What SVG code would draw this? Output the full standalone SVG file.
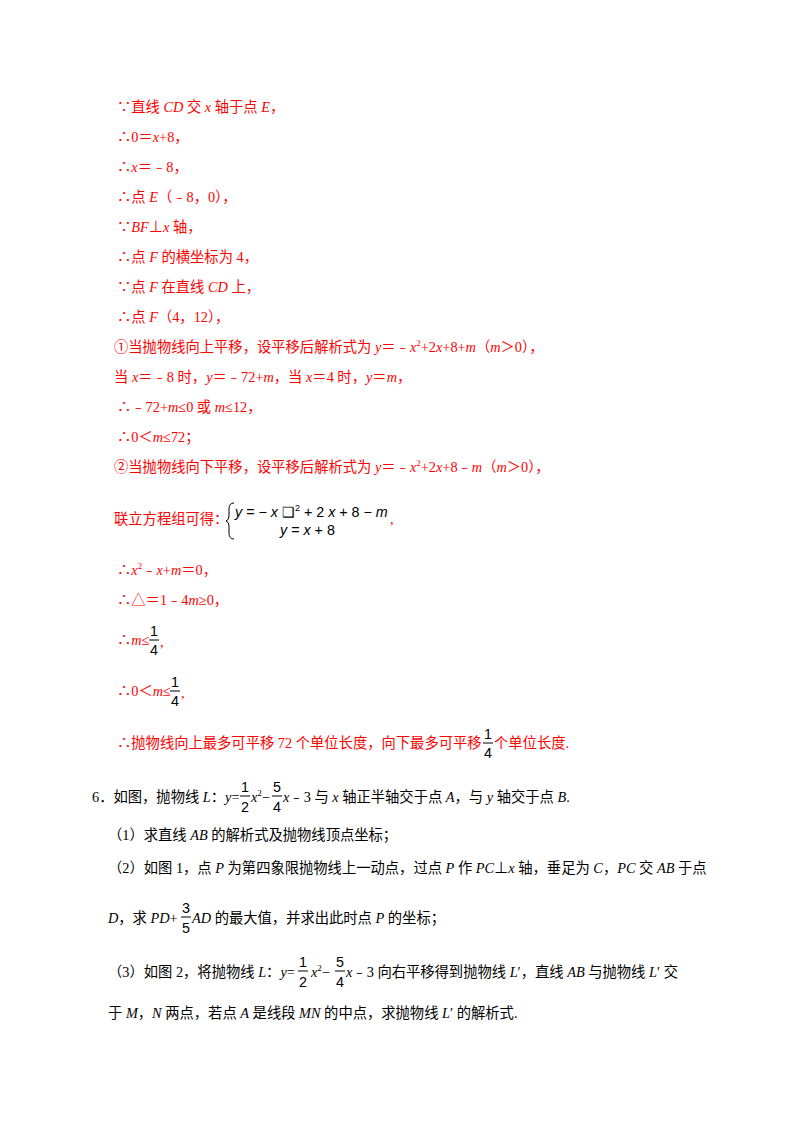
<svg xmlns="http://www.w3.org/2000/svg" width="800" height="1132" viewBox="0 0 800 1132">
<style>
text{font-family:"Liberation Serif","Noto Sans CJK SC",serif;font-size:14.3px}
.r{fill:#ff0000}
.k{fill:#000}
.i{font-style:italic}
.s{font-family:"Liberation Sans","Noto Sans CJK SC",sans-serif}
.sup{font-size:9px}
line{stroke-width:1}
.kl{stroke:#000}
</style>
<rect width="800" height="1132" fill="#fff"/>
<g id="solution" class="r">
<text class="r" x="117" y="112">∵直线 <tspan class="i">CD</tspan> 交 <tspan class="i">x</tspan> 轴于点 <tspan class="i">E</tspan>，</text>
<text class="r" x="117" y="142">∴0＝<tspan class="i">x</tspan>+8，</text>
<text class="r" x="117" y="172">∴<tspan class="i">x</tspan>＝﹣8，</text>
<text class="r" x="117" y="202">∴点 <tspan class="i">E</tspan>（﹣8，0），</text>
<text class="r" x="117" y="232">∵<tspan class="i">BF</tspan>⊥<tspan class="i">x</tspan> 轴，</text>
<text class="r" x="117" y="262">∴点 <tspan class="i">F</tspan> 的横坐标为 4，</text>
<text class="r" x="117" y="292">∵点 <tspan class="i">F</tspan> 在直线 <tspan class="i">CD</tspan> 上，</text>
<text class="r" x="117" y="322">∴点 <tspan class="i">F</tspan>（4，12），</text>
<text class="r" x="114" y="352">①当抛物线向上平移，设平移后解析式为 <tspan class="i">y</tspan>＝﹣<tspan class="i">x</tspan><tspan class="sup" dy="-6">2</tspan><tspan dy="6">+2</tspan><tspan class="i">x</tspan>+8+<tspan class="i">m</tspan>（<tspan class="i">m</tspan>＞0），</text>
<text class="r" x="114" y="382">当 <tspan class="i">x</tspan>＝﹣8 时，<tspan class="i">y</tspan>＝﹣72+<tspan class="i">m</tspan>，当 <tspan class="i">x</tspan>＝4 时，<tspan class="i">y</tspan>＝<tspan class="i">m</tspan>，</text>
<text class="r" x="117" y="412">∴﹣72+<tspan class="i">m</tspan>≤0 或 <tspan class="i">m</tspan>≤12，</text>
<text class="r" x="117" y="442">∴0＜<tspan class="i">m</tspan>≤72；</text>
<text class="r" x="114" y="472">②当抛物线向下平移，设平移后解析式为 <tspan class="i">y</tspan>＝﹣<tspan class="i">x</tspan><tspan class="sup" dy="-6">2</tspan><tspan dy="6">+2</tspan><tspan class="i">x</tspan>+8﹣<tspan class="i">m</tspan>（<tspan class="i">m</tspan>＞0），</text>
<text class="r" x="114" y="524">联立方程组可得：</text>
<path d="M234 503 Q229 503 229 509 L229 516 Q229 520 226 521 Q229 522 229 526 L229 533 Q229 539 234 539" fill="none" stroke="#000" stroke-width="1"/>
<text class="k s" x="235" y="517"><tspan class="i">y</tspan> = − <tspan class="i">x</tspan> ❑<tspan class="sup" dy="-6">2</tspan><tspan dy="6"> + 2 </tspan><tspan class="i">x</tspan> + 8 − <tspan class="i">m</tspan></text>
<text class="r" x="390" y="524">,</text>
<text class="k s" x="280" y="535"><tspan class="i">y</tspan> = <tspan class="i">x</tspan> + 8</text>
<text class="r" x="117" y="575">∴<tspan class="i">x</tspan><tspan class="sup" dy="-6">2</tspan><tspan dy="6">﹣</tspan><tspan class="i">x</tspan>+<tspan class="i">m</tspan>＝0，</text>
<text class="r" x="117" y="605">∴△＝1﹣4<tspan class="i">m</tspan>≥0，</text>
<text class="r" x="117" y="645">∴<tspan class="i">m</tspan>≤</text>
<text class="k s" x="150" y="636">1</text><line class="kl" x1="149" y1="640" x2="159" y2="640"/><text class="k s" x="150" y="655">4</text>
<text class="r" x="160" y="647">,</text>
<text class="r" x="117" y="696">∴0＜<tspan class="i">m</tspan>≤</text>
<text class="k s" x="171" y="687">1</text><line class="kl" x1="170" y1="691" x2="180" y2="691"/><text class="k s" x="171" y="706">4</text>
<text class="r" x="181" y="698">,</text>
<text class="r" x="117" y="748">∴抛物线向上最多可平移 72 个单位长度，向下最多可平移</text>
<text class="k s" x="484" y="739">1</text><line class="kl" x1="483" y1="743" x2="493" y2="743"/><text class="k s" x="484" y="758">4</text>
<text class="r" x="494" y="748">个单位长度.</text>
</g>
<g id="problem" class="k">
<text class="k" x="92" y="802">6．如图，抛物线 <tspan class="i">L</tspan>：<tspan class="i">y</tspan>=</text>
<text class="k s" x="241" y="792">1</text><line class="kl" x1="240" y1="796" x2="250" y2="796"/><text class="k s" x="241" y="812">2</text>
<text class="k" x="251" y="802"><tspan class="i">x</tspan><tspan class="sup" dy="-6">2</tspan><tspan dy="6">−</tspan></text>
<text class="k s" x="273" y="792">5</text><line class="kl" x1="272" y1="796" x2="282" y2="796"/><text class="k s" x="273" y="812">4</text>
<text class="k" x="283" y="802"><tspan class="i">x</tspan>﹣3 与 <tspan class="i">x</tspan> 轴正半轴交于点 <tspan class="i">A</tspan>，与 <tspan class="i">y</tspan> 轴交于点 <tspan class="i">B</tspan>.</text>
<text class="k" x="108" y="840">（1）求直线 <tspan class="i">AB</tspan> 的解析式及抛物线顶点坐标；</text>
<text class="k" x="108" y="873">（2）如图 1，点 <tspan class="i">P</tspan> 为第四象限抛物线上一动点，过点 <tspan class="i">P</tspan> 作 <tspan class="i">PC</tspan>⊥<tspan class="i">x</tspan> 轴，垂足为 <tspan class="i">C</tspan>，<tspan class="i">PC</tspan> 交 <tspan class="i">AB</tspan> 于点</text>
<text class="k" x="108" y="923"><tspan class="i">D</tspan>，求 <tspan class="i">PD</tspan>+</text>
<text class="k s" x="182" y="913">3</text><line class="kl" x1="181" y1="917" x2="191" y2="917"/><text class="k s" x="182" y="933">5</text>
<text class="k" x="192" y="923"><tspan class="i">AD</tspan> 的最大值，并求出此时点 <tspan class="i">P</tspan> 的坐标；</text>
<text class="k" x="108" y="977">（3）如图 2，将抛物线 <tspan class="i">L</tspan>：<tspan class="i">y</tspan>=</text>
<text class="k s" x="299" y="967">1</text><line class="kl" x1="298" y1="971" x2="308" y2="971"/><text class="k s" x="299" y="987">2</text>
<text class="k" x="311" y="977"><tspan class="i">x</tspan><tspan class="sup" dy="-6">2</tspan><tspan dy="6">−</tspan></text>
<text class="k s" x="336" y="967">5</text><line class="kl" x1="335" y1="971" x2="345" y2="971"/><text class="k s" x="336" y="987">4</text>
<text class="k" x="346" y="977"><tspan class="i">x</tspan>﹣3 向右平移得到抛物线 <tspan class="i">L</tspan>′，直线 <tspan class="i">AB</tspan> 与抛物线 <tspan class="i">L</tspan>′ 交</text>
<text class="k" x="108" y="1018">于 <tspan class="i">M</tspan>，<tspan class="i">N</tspan> 两点，若点 <tspan class="i">A</tspan> 是线段 <tspan class="i">MN</tspan> 的中点，求抛物线 <tspan class="i">L</tspan>′ 的解析式.</text>
</g>
</svg>
